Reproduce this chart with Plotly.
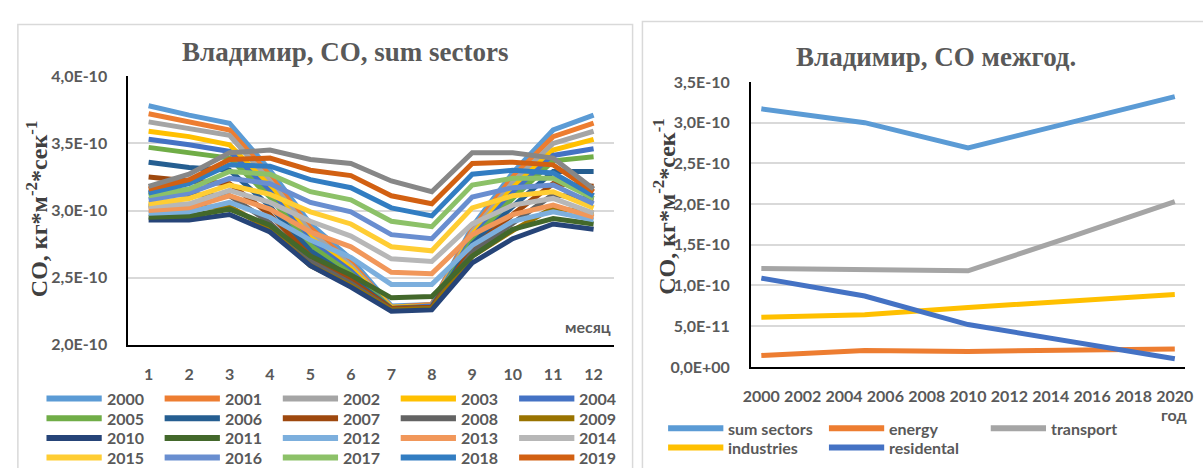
import plotly.graph_objects as go

W, H = 1203, 468

# ---- monthly CO flux, sum of sectors (units of 1e-10 kg m-2 s-1) ----
months = [1, 2, 3, 4, 5, 6, 7, 8, 9, 10, 11, 12]
month_labels = ["1", "2", "3", "4", "5", "6", "7", "8", "9", "10", "11", "12"]

co_2000 = [3.78, 3.71, 3.65, 3.30, 2.90, 2.64, 2.29, 2.30, 2.88, 3.28, 3.60, 3.71]
co_2001 = [3.72, 3.66, 3.60, 3.26, 2.87, 2.61, 2.28, 2.30, 2.86, 3.25, 3.55, 3.65]
co_2002 = [3.66, 3.61, 3.56, 3.22, 2.84, 2.59, 2.28, 2.29, 2.84, 3.21, 3.50, 3.59]
co_2003 = [3.59, 3.55, 3.49, 3.18, 2.80, 2.57, 2.28, 2.29, 2.82, 3.17, 3.45, 3.53]
co_2004 = [3.53, 3.49, 3.44, 3.14, 2.77, 2.55, 2.27, 2.29, 2.80, 3.13, 3.41, 3.46]
co_2005 = [3.47, 3.43, 3.39, 3.10, 2.74, 2.53, 2.27, 2.28, 2.78, 3.09, 3.37, 3.40]
co_2006 = [3.36, 3.32, 3.30, 3.03, 2.70, 2.50, 2.27, 2.28, 2.75, 3.03, 3.29, 3.29]
co_2007 = [3.25, 3.22, 3.20, 2.97, 2.66, 2.48, 2.27, 2.28, 2.72, 2.97, 3.20, 3.18]
co_2008 = [3.14, 3.12, 3.11, 2.91, 2.62, 2.46, 2.26, 2.27, 2.69, 2.91, 3.12, 3.08]
co_2009 = [3.04, 3.02, 3.03, 2.86, 2.59, 2.44, 2.26, 2.27, 2.66, 2.85, 3.02, 2.98]
co_2010 = [2.93, 2.93, 2.97, 2.84, 2.59, 2.43, 2.25, 2.26, 2.61, 2.79, 2.90, 2.86]
co_2011 = [2.95, 2.96, 3.01, 2.89, 2.66, 2.52, 2.35, 2.36, 2.66, 2.86, 2.94, 2.90]
co_2012 = [2.98, 2.99, 3.06, 2.95, 2.78, 2.65, 2.45, 2.45, 2.74, 2.92, 2.99, 2.93]
co_2013 = [3.00, 3.02, 3.11, 3.01, 2.84, 2.73, 2.54, 2.53, 2.82, 2.97, 3.04, 2.95]
co_2014 = [3.03, 3.05, 3.15, 3.06, 2.92, 2.81, 2.64, 2.62, 2.90, 3.04, 3.09, 2.98]
co_2015 = [3.05, 3.09, 3.19, 3.12, 2.99, 2.90, 2.73, 2.70, 3.02, 3.11, 3.14, 3.02]
co_2016 = [3.08, 3.13, 3.24, 3.20, 3.06, 2.99, 2.82, 2.79, 3.10, 3.17, 3.19, 3.05]
co_2017 = [3.11, 3.16, 3.29, 3.27, 3.14, 3.08, 2.92, 2.88, 3.19, 3.24, 3.24, 3.09]
co_2018 = [3.13, 3.20, 3.34, 3.33, 3.23, 3.17, 3.02, 2.96, 3.27, 3.30, 3.28, 3.11]
co_2019 = [3.16, 3.23, 3.38, 3.39, 3.30, 3.26, 3.11, 3.05, 3.35, 3.36, 3.34, 3.14]
co_2020 = [3.18, 3.27, 3.43, 3.45, 3.38, 3.35, 3.22, 3.14, 3.43, 3.43, 3.39, 3.16]

years = list(range(2000, 2021))
monthly = [co_2000, co_2001, co_2002, co_2003, co_2004, co_2005, co_2006,
           co_2007, co_2008, co_2009, co_2010, co_2011, co_2012, co_2013,
           co_2014, co_2015, co_2016, co_2017, co_2018, co_2019, co_2020]
year_colors = ["#5B9BD5", "#ED7D31", "#A5A5A5", "#FFC000", "#4472C4", "#70AD47",
               "#255E91", "#9E480E", "#636363", "#997300", "#264478", "#43682B",
               "#7CAFDD", "#F1975A", "#B7B7B7", "#FFCD33", "#698ED0", "#8CC168",
               "#327DC2", "#D26012", "#878787"]

left_ticks = [2.0, 2.5, 3.0, 3.5, 4.0]
left_tick_text = ["2,0E-10", "2,5E-10", "3,0E-10", "3,5E-10", "4,0E-10"]

# ---- inter-annual CO by sector (units of 1e-10) ----
annual_years = [2000, 2005, 2010, 2015, 2020]
sum_sectors = [3.17, 3.00, 2.69, 3.00, 3.32]
energy = [0.14, 0.20, 0.19, 0.21, 0.22]
transport = [1.21, 1.20, 1.18, 1.60, 2.03]
industries = [0.61, 0.64, 0.73, 0.81, 0.89]
residental = [1.09, 0.87, 0.52, 0.31, 0.10]
sector_names = ["sum sectors", "energy", "transport", "industries", "residental"]
sector_colors = ["#5B9BD5", "#ED7D31", "#A5A5A5", "#FFC000", "#4472C4"]

right_ticks = [0.0, 0.5, 1.0, 1.5, 2.0, 2.5, 3.0, 3.5]
right_tick_text = ["0,0E+00", "5,0E-11", "1,0E-10", "1,5E-10", "2,0E-10",
                   "2,5E-10", "3,0E-10", "3,5E-10"]
year_ticks = list(range(2000, 2021, 2))

E = 1e-10
GRAY = "#595959"
TICK_FONT = dict(family="Lato", size=16, color=GRAY, weight=700)
SERIF = "Liberation Serif"


def px(x):
    return x / W


def py(y):
    return 1 - y / H


fig = go.Figure()

for yr, vals, col in zip(years, monthly, year_colors):
    fig.add_trace(go.Scatter(
        x=months, y=[v * E for v in vals], mode="lines", name=str(yr),
        line=dict(color=col, width=5), xaxis="x", yaxis="y", showlegend=False))

for name, vals, col in zip(sector_names,
                           [sum_sectors, energy, transport, industries, residental],
                           sector_colors):
    fig.add_trace(go.Scatter(
        x=annual_years, y=[v * E for v in vals], mode="lines", name=name,
        line=dict(color=col, width=5), xaxis="x2", yaxis="y2", showlegend=False))

axis_common = dict(showline=True, linecolor="black", linewidth=2, ticks="",
                   tickfont=TICK_FONT, zeroline=False)

fig.update_layout(
    width=W, height=H, margin=dict(l=0, r=0, t=0, b=0),
    paper_bgcolor="white", plot_bgcolor="white",
    xaxis=dict(domain=[px(122), px(614)], range=[0.5, 12.5], tickvals=months,
               ticktext=month_labels, showgrid=False, anchor="y",
               ticklabelstandoff=14, **axis_common),
    yaxis=dict(domain=[py(349), py(69)], range=[2.0 * E, 4.0 * E],
               tickvals=[t * E for t in left_ticks], ticktext=left_tick_text,
               showgrid=True, gridcolor="#d9d9d9", gridwidth=1.5, anchor="x",
               ticklabelstandoff=16, **axis_common),
    xaxis2=dict(domain=[px(753), px(1193)], range=[1999.5, 2020.5],
                tickvals=year_ticks, ticktext=[str(t) for t in year_ticks],
                showgrid=False, anchor="y2", ticklabelstandoff=14, **axis_common),
    yaxis2=dict(domain=[py(372), py(75)], range=[0.0, 3.5 * E],
                tickvals=[t * E for t in right_ticks], ticktext=right_tick_text,
                showgrid=True, gridcolor="#d9d9d9", gridwidth=1.5, anchor="x2",
                ticklabelstandoff=16, **axis_common),
)

shapes = []
annotations = []

# chart frames
shapes.append(dict(type="rect", xref="paper", yref="paper", layer="below",
                   x0=px(10), x1=px(633), y0=py(490), y1=py(15),
                   line=dict(color="#d9d9d9", width=1.5)))
shapes.append(dict(type="rect", xref="paper", yref="paper", layer="below",
                   x0=px(643), x1=px(1215), y0=py(490), y1=py(12),
                   line=dict(color="#d9d9d9", width=1.5)))

# titles
annotations.append(dict(text="<b>Владимир, CO, sum sectors</b>", x=px(342), y=py(44),
                        xref="paper", yref="paper", showarrow=False,
                        xanchor="center", yanchor="middle",
                        font=dict(family=SERIF, size=27, color=GRAY)))
annotations.append(dict(text="<b>Владимир, CO межгод.</b>", x=px(941), y=py(49),
                        xref="paper", yref="paper", showarrow=False,
                        xanchor="center", yanchor="middle",
                        font=dict(family=SERIF, size=27, color=GRAY)))
ytitle = "<b>CO, кг*м<sup>-2</sup>*сек<sup>-1</sup></b>"
for xc, yc in [(29, 208), (665, 205)]:
    annotations.append(dict(text=ytitle, x=px(xc), y=py(yc), xref="paper",
                            yref="paper", showarrow=False, textangle=-90,
                            xanchor="center", yanchor="middle",
                            font=dict(family=SERIF, size=24, color="#404040")))
annotations.append(dict(text="месяц", x=px(613), y=py(330), xref="paper",
                        yref="paper", showarrow=False, xanchor="right",
                        yanchor="middle", font=TICK_FONT))
annotations.append(dict(text="год", x=px(1197), y=py(422), xref="paper",
                        yref="paper", showarrow=False, xanchor="right",
                        yanchor="middle", font=TICK_FONT))

# legend of the monthly panel: 5 columns, row by row
col_x = [39, 158.75, 278.5, 398, 518]
for i, (yr, col) in enumerate(zip(years, year_colors)):
    cx = col_x[i % 5]
    cy = 405 + 20.5 * (i // 5)
    shapes.append(dict(type="line", xref="paper", yref="paper",
                       x0=px(cx), x1=px(cx + 56), y0=py(cy), y1=py(cy),
                       line=dict(color=col, width=6)))
    annotations.append(dict(text=str(yr), x=px(cx + 59), y=py(cy), xref="paper",
                            yref="paper", showarrow=False, xanchor="left",
                            yanchor="middle", font=TICK_FONT))

# legend of the inter-annual panel
sec_x = [669, 832, 996]
for i, (name, col) in enumerate(zip(sector_names, sector_colors)):
    cx = sec_x[i % 3]
    cy = 436 + 20 * (i // 3)
    shapes.append(dict(type="line", xref="paper", yref="paper",
                       x0=px(cx), x1=px(cx + 56), y0=py(cy), y1=py(cy),
                       line=dict(color=col, width=6)))
    annotations.append(dict(text=name, x=px(cx + 59), y=py(cy), xref="paper",
                            yref="paper", showarrow=False, xanchor="left",
                            yanchor="middle", font=TICK_FONT))

fig.update_layout(shapes=shapes, annotations=annotations)
fig.write_html("out.html")
